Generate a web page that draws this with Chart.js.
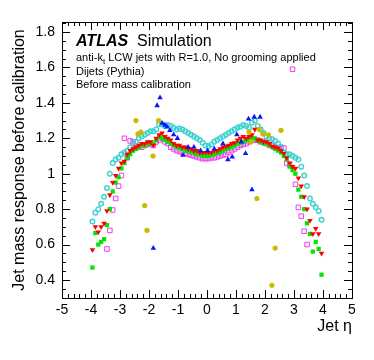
<!DOCTYPE html>
<html>
<head>
<meta charset="utf-8">
<script src="https://cdn.jsdelivr.net/npm/chart.js@4.4.1/dist/chart.umd.min.js"></script>
<style>
  html, body { margin: 0; padding: 0; background: #fff; }
  #wrap { width: 374px; height: 360px; }
</style>
</head>
<body>
<div id="wrap"><canvas id="chart" width="374" height="360"></canvas></div>
<script>
// eta bin centres
const etaBins = [
  -3.95, -3.85, -3.75, -3.65, -3.55, -3.45, -3.35, -3.25, -3.15, -3.05,
  -2.95, -2.85, -2.75, -2.65, -2.55, -2.45, -2.35, -2.25, -2.15, -2.05,
  -1.95, -1.85, -1.75, -1.65, -1.55, -1.45, -1.35, -1.25, -1.15, -1.05,
  -0.95, -0.85, -0.75, -0.65, -0.55, -0.45, -0.35, -0.25, -0.15, -0.05,
  0.05, 0.15, 0.25, 0.35, 0.45, 0.55, 0.65, 0.75, 0.85, 0.95,
  1.05, 1.15, 1.25, 1.35, 1.45, 1.55, 1.65, 1.75, 1.85, 1.95,
  2.05, 2.15, 2.25, 2.35, 2.45, 2.55, 2.65, 2.75, 2.85, 2.95,
  3.05, 3.15, 3.25, 3.35, 3.45, 3.55, 3.65, 3.75, 3.85, 3.95
];

const cyanVals = [
  0.73, 0.78, 0.80, 0.83, 0.87, 0.92, 1.00, 1.06, 1.08, 1.09,
  1.11, 1.12, 1.13, 1.15, 1.17, 1.18, 1.20, 1.21, 1.22, 1.23,
  1.24, 1.24, 1.25, 1.28, 1.28, 1.27, 1.275, 1.27, 1.26, 1.25,
  1.255, 1.25, 1.24, 1.23, 1.22, 1.21, 1.20, 1.19, 1.175, 1.16,
  1.155, 1.165, 1.18, 1.19, 1.20, 1.21, 1.22, 1.23, 1.24, 1.25,
  1.26, 1.265, 1.275, 1.27, 1.26, 1.29, 1.30, 1.27, 1.25, 1.23,
  1.21, 1.20, 1.195, 1.185, 1.17, 1.15, 1.12, 1.11, 1.11, 1.10,
  1.09, 1.08, 1.04, 0.99, 0.93, 0.86, 0.83, 0.81, 0.79, 0.74
];

const redVals = [
  0.57, 0.70, 0.67, 0.70, 0.72, 0.79, 0.88, 0.95, 0.99, 1.03,
  1.06, 1.07, 1.11, 1.13, 1.14, 1.15, 1.16, 1.17, 1.17, 1.18,
  1.18, 1.16, 1.20, 1.22, 1.23, 1.21, 1.20, 1.19, 1.17, 1.16,
  1.16, 1.15, 1.15, 1.14, 1.14, 1.13, 1.13, 1.12, 1.12, 1.12,
  1.12, 1.12, 1.13, 1.13, 1.14, 1.15, 1.155, 1.16, 1.17, 1.175,
  1.19, 1.20, 1.21, 1.20, 1.21, 1.22, 1.25, 1.19, 1.19, 1.18,
  1.18, 1.17, 1.155, 1.15, 1.145, 1.13, 1.115, 1.09, 1.06, 1.04,
  1.03, 0.975, 0.93, 0.87, 0.80, 0.735, 0.66, 0.69, 0.66, 0.55
];

const greenVals = [
  0.47, 0.665, 0.60, 0.615, 0.63, 0.71, 0.80, 0.90, 0.95, 0.98,
  1.03, 1.06, 1.09, 1.11, 1.13, 1.14, 1.15, 1.16, 1.16, 1.17,
  1.17, 1.17, 1.19, 1.21, 1.20, 1.19, 1.18, 1.17, 1.16, 1.15,
  1.145, 1.14, 1.13, 1.13, 1.12, 1.12, 1.11, 1.11, 1.10, 1.10,
  1.10, 1.105, 1.11, 1.115, 1.12, 1.13, 1.14, 1.145, 1.15, 1.16,
  1.17, 1.175, 1.18, 1.19, 1.19, 1.20, 1.20, 1.19, 1.18, 1.17,
  1.17, 1.16, 1.15, 1.14, 1.13, 1.12, 1.10, 1.08, 1.04, 1.02,
  1.00, 0.91, 0.87, 0.80, 0.72, 0.66, 0.56, 0.615, 0.575, 0.43
];

const magentaVals = [
  null, null, null, null, null, 0.575, 0.68, 0.795, 0.86, 0.93,
  0.99, 1.20, 1.09, 1.185, 1.18, 1.15, 1.15, 1.15, 1.16, 1.165,
  1.17, 1.16, 1.18, 1.19, 1.20, 1.18, 1.17, 1.15, 1.14, 1.13,
  1.125, 1.12, 1.115, 1.11, 1.105, 1.10, 1.095, 1.09, 1.085, 1.085,
  1.085, 1.09, 1.09, 1.095, 1.10, 1.105, 1.11, 1.12, 1.13, 1.14,
  1.15, 1.16, 1.165, 1.17, 1.18, 1.19, 1.19, 1.19, 1.18, 1.18,
  1.17, 1.16, 1.16, 1.15, 1.145, 1.15, 1.145, 1.06, 1.05, 1.59,
  0.94, 0.81, 0.76, 0.675, 0.60, null, null, null, null, null
];

// blue and yellow only populate some bins
const blueEta = [-1.85, -1.72, -1.62, -1.55, -1.45, -1.38, -1.28, -1.15, -1.02, -0.83, -0.65, -0.45, -0.22, 0.02, 0.25, 0.55, 0.72, 0.87, 1.03, 1.18, 1.33, 1.43, 1.55, 1.63, 1.83];
const blueVals = [0.58, 1.385, 1.43, 1.285, 1.275, 1.265, 1.245, 1.22, 1.20, 1.105, 1.15, 1.15, 1.13, 1.13, 1.14, 1.17, 1.08, 1.095, 1.22, 1.18, 1.115, 1.31, 0.91, 1.32, 1.32];

const yellowEta = [-2.45, -2.38, -2.28, -2.15, -2.07, -1.86, -1.67, 1.45, 1.52, 1.72, 1.80, 1.93, 2.12, 2.24, 2.35, 2.55];
const yellowVals = [1.30, 1.225, 1.235, 0.82, 0.68, 1.10, 1.30, 1.235, 1.18, 0.86, 1.25, 1.225, 1.22, 0.37, 0.58, 1.245];

const xTicks = [-5, -4, -3, -2, -1, 0, 1, 2, 3, 4, 5];
const xTickLabels = ['-5', '-4', '-3', '-2', '-1', '0', '1', '2', '3', '4', '5'];
const yTicks = [0.4, 0.6, 0.8, 1.0, 1.2, 1.4, 1.6, 1.8];
const yTickLabels = ['0.4', '0.6', '0.8', '1', '1.2', '1.4', '1.6', '1.8'];

const FONT = '"Liberation Sans", Arial, Helvetica, sans-serif';

function pts(xs, ys) {
  return xs.map((x, i) => ({ x: x, y: ys[i] })).filter(p => p.y !== null);
}

// ROOT-style box with inward ticks on all four sides
const frameTicks = {
  id: 'frameTicks',
  afterDatasetsDraw(chart) {
    const { ctx, chartArea: a, scales: { x, y } } = chart;
    ctx.save();
    ctx.strokeStyle = '#000';
    ctx.lineWidth = 1;
    ctx.beginPath();
    for (let k = -25; k <= 25; k++) {
      const px = Math.round(x.getPixelForValue(k * 0.2)) + 0.5;
      const len = k % 5 === 0 ? 8 : 4;
      ctx.moveTo(px, a.bottom); ctx.lineTo(px, a.bottom - len);
      ctx.moveTo(px, a.top); ctx.lineTo(px, a.top + len);
    }
    for (let k = 6; k <= 37; k++) {
      const py = Math.round(y.getPixelForValue(k * 0.05)) + 0.5;
      const len = k % 4 === 0 ? 8 : 4;
      ctx.moveTo(a.left, py); ctx.lineTo(a.left + len, py);
      ctx.moveTo(a.right, py); ctx.lineTo(a.right - len, py);
    }
    ctx.stroke();
    ctx.strokeRect(Math.round(a.left) + 0.5, Math.round(a.top) + 0.5,
      Math.round(a.right - a.left), Math.round(a.bottom - a.top));
    ctx.restore();
  },
  afterDraw(chart) {
    const ctx = chart.ctx;
    ctx.save();
    ctx.fillStyle = '#000';
    ctx.textBaseline = 'alphabetic';
    ctx.font = 'italic bold 16px ' + FONT;
    ctx.fillText('ATLAS', 76, 46);
    ctx.font = '16px ' + FONT;
    ctx.fillText('Simulation', 137, 46);
    ctx.font = '11px ' + FONT;
    ctx.fillText('anti-k', 76, 61);
    let w = ctx.measureText('anti-k').width;
    ctx.font = '8px ' + FONT;
    ctx.fillText('t', 76 + w, 64);
    w += ctx.measureText('t').width;
    ctx.font = '11px ' + FONT;
    ctx.fillText(' LCW jets with R=1.0, No grooming applied', 76 + w, 61);
    ctx.fillText('Dijets (Pythia)', 76, 74.5);
    ctx.fillText('Before mass calibration', 76, 88);
    ctx.restore();
  }
};

const common = { showLine: false, pointHoverRadius: 0 };

new Chart(document.getElementById('chart'), {
  type: 'scatter',
  data: {
    datasets: [
      Object.assign({
        label: 'yellow', data: pts(yellowEta, yellowVals), order: 1,
        pointStyle: 'circle', pointRadius: 2.6, pointBorderWidth: 0,
        backgroundColor: '#c9bc00', borderColor: '#c9bc00'
      }, common),
      Object.assign({
        label: 'blue', data: pts(blueEta, blueVals), order: 2,
        pointStyle: 'triangle', pointRadius: 3.2, pointBorderWidth: 0,
        backgroundColor: '#0a14ff', borderColor: '#0a14ff'
      }, common),
      Object.assign({
        label: 'red', data: pts(etaBins, redVals), order: 3,
        pointStyle: 'triangle', pointRotation: 180, pointRadius: 3.2, pointBorderWidth: 0,
        backgroundColor: '#ff0000', borderColor: '#ff0000'
      }, common),
      Object.assign({
        label: 'green', data: pts(etaBins, greenVals), order: 4,
        pointStyle: 'rect', pointRadius: 3, pointBorderWidth: 0,
        backgroundColor: '#00e600', borderColor: '#00e600'
      }, common),
      Object.assign({
        label: 'cyan', data: pts(etaBins, cyanVals), order: 5,
        pointStyle: 'circle', pointRadius: 2.3, pointBorderWidth: 1.4,
        backgroundColor: 'rgba(255,255,255,0)', borderColor: '#3fd0d0'
      }, common),
      Object.assign({
        label: 'magenta', data: pts(etaBins, magentaVals), order: 6,
        pointStyle: 'rect', pointRadius: 3.2, pointBorderWidth: 1,
        backgroundColor: 'rgba(255,255,255,0)', borderColor: '#f03cf0'
      }, common)
    ]
  },
  options: {
    responsive: false,
    animation: false,
    devicePixelRatio: 1,
    layout: { padding: { left: 0, right: 22, top: 22, bottom: 0 } },
    plugins: { legend: { display: false }, tooltip: { enabled: false } },
    scales: {
      x: {
        type: 'linear', min: -5, max: 5,
        afterBuildTicks: s => { s.ticks = xTicks.map(v => ({ value: v })); },
        afterFit: s => { s.height = 62; },
        grid: { display: false, drawTicks: false },
        border: { display: false },
        ticks: {
          autoSkip: false, maxRotation: 0, padding: 4, color: '#000',
          font: { family: FONT, size: 14 },
          callback: (v, i) => xTickLabels[i]
        },
        title: {
          display: true, text: 'Jet η', align: 'end', color: '#000',
          font: { family: FONT, size: 16 }, padding: { top: 0, bottom: 24 }
        }
      },
      y: {
        type: 'linear', min: 0.298, max: 1.857,
        afterBuildTicks: s => { s.ticks = yTicks.map(v => ({ value: v })); },
        afterFit: s => { s.width = 62; },
        grid: { display: false, drawTicks: false },
        border: { display: false },
        ticks: {
          autoSkip: false, padding: 7, color: '#000',
          font: { family: FONT, size: 14 },
          callback: (v, i) => yTickLabels[i]
        },
        title: {
          display: true, text: 'Jet mass response before calibration', color: '#000',
          font: { family: FONT, size: 16 }, padding: { top: 10, bottom: 0 }
        }
      }
    }
  },
  plugins: [frameTicks]
});
</script>
</body>
</html>
